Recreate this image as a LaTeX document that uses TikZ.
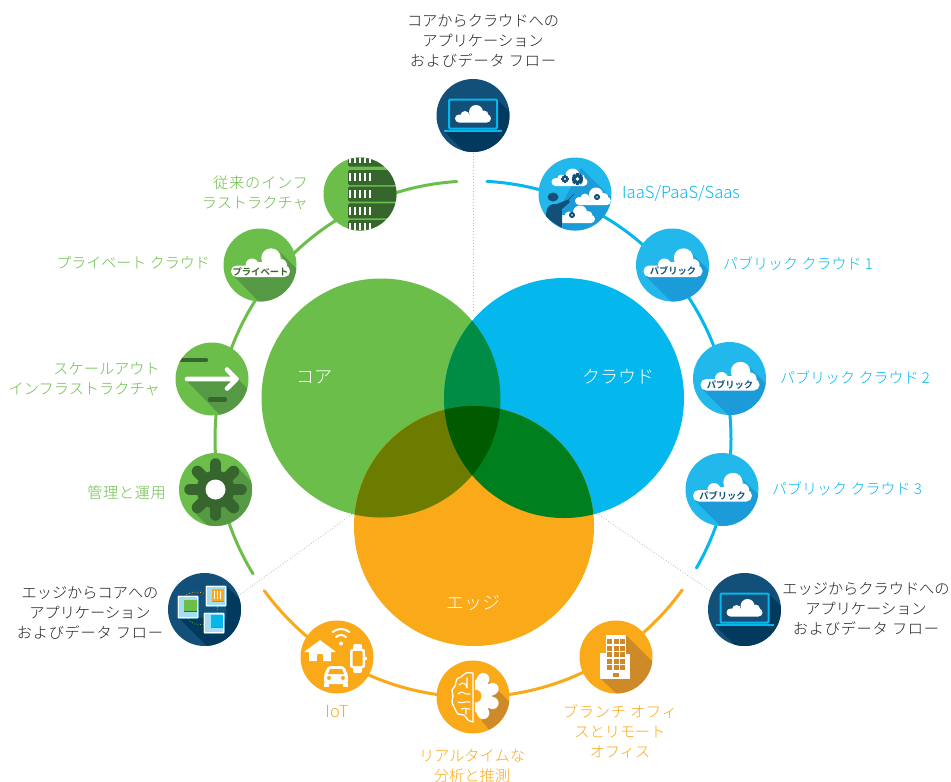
\documentclass[tikz,border=0pt]{standalone}
\usepackage{fontspec}
\setmainfont{Noto Sans CJK JP}[UprightFont=* Light,BoldFont=* Bold]
\usetikzlibrary{calc}
\definecolor{cgreen}{HTML}{6CBE4A}
\definecolor{cblue}{HTML}{04B8EE}
\definecolor{corange}{HTML}{FAA919}
\definecolor{cgb}{HTML}{008C44}
\definecolor{cgo}{HTML}{6B7C00}
\definecolor{cbo}{HTML}{007F1E}
\definecolor{cgbo}{HTML}{005A00}
\definecolor{navy}{HTML}{12507A}
\definecolor{navyd}{HTML}{013A5C}
\definecolor{sky}{HTML}{22B8EC}
\definecolor{skyd}{HTML}{1B9CD8}
\definecolor{grn}{HTML}{6CBE4A}
\definecolor{grnd}{HTML}{559944}
\definecolor{grnx}{HTML}{36652E}
\definecolor{orgd}{HTML}{CE8A28}
\definecolor{txt}{HTML}{222222}
\definecolor{ice}{HTML}{A3DEF2}
\tikzset{
  x=1pt,y=-1pt,
  ring/.style={line width=3pt,line cap=round},
  guide/.style={draw=black!24,line width=0.9pt,dotted},
  bub/.style={circle,minimum size=73pt,inner sep=0pt},
  lab/.style={inner sep=0pt,font=\fontsize{15.2}{20}\selectfont,text=#1},
  big/.style={inner sep=0pt,text=white,font=\fontsize{18}{20}\selectfont},
  tag/.style={inner sep=0pt,text=#1,font=\bfseries\fontsize{9.3}{10}\selectfont},
  cloudsym/.pic={
    \fill[rounded corners=4pt] (-18,-1) rectangle (18,7);
    \fill (3,-3.5) circle[radius=7pt];
    \fill (-8,0) circle[radius=4.5pt];
    \fill (11,-0.5) circle[radius=4.5pt];
  },
  cloudlab/.pic={
    \fill[white,rounded corners=5.6pt] (-29,0.5) rectangle (30,12);
    \fill[white] (11,-7) circle[radius=9.7pt];
    \fill[white] (-8,0) circle[radius=6.5pt];
    \fill[white] (21,0) circle[radius=6pt];
    \fill[white] (-8,-3) rectangle (20,2);
  },
}
\newcommand{\minigear}[3]{%
  \foreach \a in {0,45,...,315}{\draw[navy,line width=#3*0.5pt] (#1,#2) -- ++(\a:#3*0.9pt);}
  \fill[navy] (#1,#2) circle[radius=#3*0.72pt];
  \fill[white] (#1,#2) circle[radius=#3*0.3pt];
}
\newcommand{\spaced}[2]{{\addfontfeature{LetterSpace=#1}#2}}
\begin{document}
\begin{tikzpicture}
\useasboundingbox (0,0) rectangle (951,782);
\fill[white] (0,0) rectangle (951,782);
% dotted guides
\coordinate (gtop) at (473,150);
\coordinate (gtopb) at (473,312);
\coordinate (gl) at (238,596);
\coordinate (glb) at (358,510);
\coordinate (gr) at (712,592);
\coordinate (grb) at (592,510);
\draw[guide] (gtop) -- (gtopb);
\draw[guide] (gl) -- (glb);
\draw[guide] (gr) -- (grb);
% ring
\coordinate (rc) at (473,439);
\draw[ring,cgreen] ($(rc)+(93.6:258pt)$) arc[start angle=93.6,end angle=211.5,radius=258pt];
\draw[ring,cblue] ($(rc)+(86.9:258pt)$) arc[start angle=86.9,end angle=-30,radius=258pt];
\draw[ring,corange] ($(rc)+(216:258pt)$) arc[start angle=216,end angle=324.2,radius=258pt];
% venn
\def\vg{(381,398) circle[radius=119.5pt]}
\def\vb{(564,398) circle[radius=120pt]}
\def\vo{(474,526) circle[radius=120pt]}
\fill[cgreen] \vg;
\fill[cblue] \vb;
\fill[corange] \vo;
\begin{scope}\clip \vg; \fill[cgb] \vb; \fill[cgo] \vo;\end{scope}
\begin{scope}\clip \vb; \fill[cbo] \vo;\end{scope}
\begin{scope}\clip \vg; \clip \vb; \fill[cgbo] \vo;\end{scope}
\node[big] (core) at (314,377) {コア};
\node[big] (cloud) at (618,377) {クラウド};
\node[big] (edge) at (473,603) {エッジ};

% --- top laptop
\node[bub,fill=navy] (ntop) at (473,115.5) {};
\begin{scope}[shift={(ntop.center)}]
  \clip (0,0) circle[radius=36.5pt];
  \fill[navyd] (-29,16) -- (-5,40) -- (44,40) -- (44,4) -- (24,-16) -- (24,16) -- cycle;
  \draw[cblue,line width=2pt,rounded corners=1pt] (-24,-16) rectangle (24,13);
  \draw[cblue,line width=2.4pt] (-29,15.5) -- (29,15.5);
  \path pic[white] {cloudsym};
\end{scope}
% --- edge-cloud laptop
\node[bub,fill=navy] (nec) at (744.5,609.5) {};
\begin{scope}[shift={(nec.center)}]
  \clip (0,0) circle[radius=36.5pt];
  \fill[navyd] (-29,16) -- (-5,40) -- (44,40) -- (44,4) -- (24,-16) -- (24,16) -- cycle;
  \draw[cblue,line width=2pt,rounded corners=1pt] (-24,-16) rectangle (24,13);
  \draw[cblue,line width=2.4pt] (-29,15.5) -- (29,15.5);
  \path pic[white] {cloudsym};
\end{scope}
% --- IaaS
\node[bub,fill=sky] (niaas) at (575,194) {};
\begin{scope}[shift={(niaas.center)}]
  \clip (0,0) circle[radius=36.5pt];
  \fill[skyd] (6,-26) -- (42,10) -- (42,42) -- (-12,42) -- (-12,8) -- cycle;
  \begin{scope}[shift={(-5.5,-15)},scale=1.17]\path pic[white] {cloudsym};\end{scope}
  \minigear{-10}{-15}{4}
  \minigear{2.5}{-15}{6.5}
  \begin{scope}[shift={(18,4)},scale=.72]\path pic[white] {cloudsym};\end{scope}
  \minigear{22}{3}{3.2}
  \begin{scope}[shift={(2,22)},scale=.72]\path pic[white] {cloudsym};\end{scope}
  \minigear{-3}{21}{3.2}
  \fill[navy] (-22,3) ellipse[x radius=5.5pt,y radius=4.5pt];
  \fill[navy] (-29,22) .. controls (-29,12) and (-24,9) .. (-18,10) -- (-7,5.5) -- (-5,8) -- (-13,15) -- (-13,34) .. controls (-20,30) and (-26,26) .. (-29,22) -- cycle;
  \draw[navy,line width=.7pt] (-7,6) -- (-1,0);
\end{scope}
% --- public clouds
\foreach \n/\x/\y in {npa/672.5/265,npb/729.5/378.5,npc/722/489.5}{
  \node[bub,fill=sky] (\n) at (\x,\y) {};
  \begin{scope}[shift={(\n.center)}]
    \clip (0,0) circle[radius=36.5pt];
    \fill[skyd] (-27,11) -- (2,40) -- (42,40) -- (42,11) -- (19,-12) -- (30,5) -- cycle;
    \path pic {cloudlab};
    \node[tag=navy] at (0.5,6.3) {パブリック};
  \end{scope}
}
% --- private
\node[bub,fill=grn] (npriv) at (260,265) {};
\begin{scope}[shift={(npriv.center)}]
  \clip (0,0) circle[radius=36.5pt];
  \fill[grnd] (-27,10) -- (2,40) -- (42,40) -- (42,9) -- (19,-14) -- (30,5) -- cycle;
  \path pic {cloudlab};
  \node[tag=grnx] at (0.5,6.3) {プライベート};
\end{scope}
% --- legacy servers
\node[bub,fill=grn] (nleg) at (360,194) {};
\begin{scope}[shift={(nleg.center)}]
  \clip (0,0) circle[radius=36.5pt];
  \foreach \t/\b in {-40/-27.5,-24/-9,-7.3/7.7,9.3/24.3,26/40}{
    \fill[grnx,rounded corners=1.5pt] (-12,\t) rectangle (42,\b);
  }
  \foreach \yy/\hh in {-37/6,-21/8,-4/8,13/8,29/7}{
    \foreach \xx in {-10,-5,0,5,10}{
      \fill[white] (\xx-0.9,\yy) rectangle (\xx+0.9,\yy+\hh);
    }
  }
\end{scope}
% --- scale-out arrow
\node[bub,fill=grn] (narr) at (212,379) {};
\begin{scope}[shift={(narr.center)}]
  \clip (0,0) circle[radius=36.5pt];
  \fill[grnd] (-26,1) -- (10,38) -- (42,38) -- (42,16) -- (16,-10) -- (24,1) -- cycle;
  \draw[white,line width=4.6pt,line cap=round,line join=round] (-25,0) -- (24,0) (15,-9.5) -- (24.5,0) -- (15,9.5);
  \draw[grnx,line width=4.4pt,line cap=round] (-33,-19) -- (-6,-19);
  \draw[grnx,line width=4.4pt,line cap=round] (-2,20.5) -- (13,20.5);
\end{scope}
% --- gear
\node[bub,fill=grn] (ngear) at (215.5,489.5) {};
\begin{scope}[shift={(ngear.center)}]
  \clip (0,0) circle[radius=36.5pt];
  \fill[grnd] (22,-22) -- (44,0) -- (44,44) -- (0,44) -- (-23,21) -- cycle;
  \fill[grnx] (0,0) circle[radius=19pt];
  \foreach \a in {0,45,...,315}{\draw[grnx,line width=11.5pt,line cap=round] (0,0) -- (\a:25.5pt);}
  \fill[white] (0,0) circle[radius=10pt];
\end{scope}
% --- edge-core cubes
\node[bub,fill=navy] (nco) at (204.5,609.5) {};
\begin{scope}[shift={(nco.center)}]
  \clip (0,0) circle[radius=36.5pt];
  \fill[navyd] (-27,7) -- (6,40) -- (44,40) -- (44,-2) -- (21,-24) -- (22,10) -- cycle;
  \draw[corange,line width=.8pt,dotted] (-18,-15) .. controls (-12,-18) and (-6,-18) .. (1,-16);
  \draw[cblue,line width=.8pt,dotted] (13,-3) -- (13,3);
  \draw[cgreen,line width=.8pt,dotted] (-16,9) .. controls (-14,15) and (-8,15) .. (-1,15);
  \fill[ice,rounded corners=1pt] (-27,-14) rectangle (-6,9);
  \draw[white,line width=.6pt] (-26,-13) rectangle (-7,8);
  \fill[cgreen] (-21,-10) rectangle (-8,1);
  \fill[grnx] (-21,1) rectangle (-8,2);
  \fill[ice,rounded corners=1pt] (1,-24) rectangle (22,-3);
  \draw[white,line width=.6pt] (2,-23) rectangle (21,-4);
  \fill[corange] (7,-21) rectangle (19,-9);
  \fill[orgd] (7,-9) rectangle (19,-8);
  \foreach \xx in {10,13,16}{\fill[white] (\xx-.8,-19) rectangle (\xx+.8,-11);}
  \fill[ice,rounded corners=1pt] (-1,3) rectangle (20,24);
  \draw[white,line width=.6pt] (0,4) rectangle (19,23);
  \fill[cblue] (6,5) rectangle (18,17);
  \fill[skyd] (6,17) rectangle (18,18);
\end{scope}
% --- IoT
\node[bub,fill=corange] (niot) at (337,657) {};
\begin{scope}[shift={(niot.center)}]
  \fill[white] (-17,-17) -- (-1,-5) -- (-6,-5) -- (-6,4) -- (-28,4) -- (-28,-5) -- (-33,-5) -- cycle;
  \fill[corange,rounded corners=1pt] (-20,6) -- (-20,-3) -- (-14,-3) -- (-14,6) -- cycle;
  \draw[white,line width=2pt,line cap=round] (4,-15) ++(50:13pt) arc[start angle=50,end angle=130,radius=13pt];
  \draw[white,line width=2pt,line cap=round] (4,-15) ++(45:7pt) arc[start angle=45,end angle=135,radius=7pt];
  \fill[white] (4,-13.5) circle[radius=2pt];
  \fill[white,rounded corners=2pt] (16,-13) rectangle (25,16);
  \fill[white,rounded corners=2pt] (13,-8) rectangle (28,11);
  \fill[corange,rounded corners=1pt] (15.5,-6) rectangle (25.5,9);
  \fill[white] (28,0) rectangle (29.5,3);
  \fill[white,rounded corners=3pt] (-13,18) -- (-9,9) -- (7,9) -- (11,18) -- (11,27) -- (-13,27) -- cycle;
  \fill[corange] (-7,12) -- (5,12) -- (7,17) -- (-9,17) -- cycle;
  \fill[white] (-13,26) rectangle (-8,30);
  \fill[white] (6,26) rectangle (11,30);
  \fill[corange] (-8,21) circle[radius=2pt];
  \fill[corange] (6,21) circle[radius=2pt];
\end{scope}
% --- brain
\node[bub,fill=corange] (nbrain) at (473,697) {};
\begin{scope}[shift={(nbrain.center)}]
  \clip (0,0) circle[radius=36.5pt];
  \fill[orgd] (12,-19) -- (42,10) -- (42,42) -- (24,42) -- (9,24) -- cycle;
  \foreach \a in {64,22,-22,-64}{\draw[white,line width=12pt,line cap=round] (2,-1) -- ($(2,-1)+(\a:19pt)$);}
  \fill[white] (2,-17) -- (2,15) -- (15,15) -- (15,-17) -- cycle;
  \fill[corange] (2,-1) circle[radius=6.5pt];
  \fill[corange] (-3,-22) rectangle (2,24);
  \draw[white,line width=1.3pt,line join=round,line cap=round] plot[smooth] coordinates {(0,-24) (-7,-24) (-12,-20) (-16,-18) (-18,-11) (-21,-7) (-20,-1) (-21,5) (-18,12) (-15,17) (-9,18) (-5,23) (0,25)} -- cycle;
  \draw[white,line width=1.1pt,line cap=round] (-14,-12) .. controls (-9,-16) and (-7,-13) .. (-6,-9) (-6,-19) -- (-6,-9) (-15,-3) .. controls (-12,-6) and (-9,-5) .. (-7,-3) -- (-3,-3) (-15,5) .. controls (-11,7) and (-9,4) .. (-3,5) (-12,12) .. controls (-9,10) and (-7,12) .. (-3,12) (-7,17) -- (-7,12);
\end{scope}
% --- building
\node[bub,fill=corange] (nbuild) at (616,657) {};
\begin{scope}[shift={(nbuild.center)}]
  \clip (0,0) circle[radius=36.5pt];
  \fill[orgd] (10,-22) -- (44,12) -- (44,42) -- (6,42) -- (-15,22) -- cycle;
  \fill[white] (-10,-22) rectangle (10,22);
  \fill[white] (-16,-4) rectangle (-10,22);
  \fill[white] (10,-3) rectangle (14,22);
  \foreach \yy in {-18,-11.5,-5,1.5,8}{
    \foreach \xx in {-9,-2.5,4}{
      \fill[orgd] (\xx,\yy) rectangle (\xx+5,\yy+5);
    }
  }
  \fill[orgd] (-3,15.5) rectangle (3,20);
\end{scope}
% --- labels
\node[lab=txt,align=center] (tt) at (483,41) {コアからクラウドへの\\アプリケーション\\\spaced{5}{およびデータ フロー}};
\node[lab=cblue,anchor=west,font=\fontsize{16.6}{20}\selectfont] (tiaas) at (622,193) {IaaS/PaaS/Saas};
\node[lab=cblue,anchor=west,font=\fontsize{15}{20}\selectfont] (tpa) at (723,264) {パブリック クラウド 1};
\node[lab=cblue,anchor=west,font=\fontsize{15}{20}\selectfont] (tpb) at (780,378) {パブリック クラウド 2};
\node[lab=cblue,anchor=west,font=\fontsize{15}{20}\selectfont] (tpc) at (772,489) {パブリック クラウド 3};
\node[lab=txt,align=center] (tec) at (866,609) {エッジからクラウドへの\\アプリケーション\\\spaced{5}{およびデータ フロー}};
\node[lab=corange,align=center] (tbr) at (620,732) {\spaced{5}{ブランチ オフィ}\\スとリモート\\オフィス};
\node[lab=corange,align=center] (tai) at (472,766) {リアルタイムな\\分析と推測};
\node[lab=corange,font=\fontsize{16.6}{20}\selectfont] (tiot) at (337,712) {IoT};
\node[lab=txt,align=center] (tco) at (90,613) {エッジからコアへの\\アプリケーション\\\spaced{5}{およびデータ フロー}};
\node[lab=cgreen,anchor=east] (tmg) at (166,493) {\spaced{4}{管理と運用}};
\node[lab=cgreen,anchor=east,align=right] (tsc) at (160,379) {スケールアウト\\インフラストラクチャ};
\node[lab=cgreen,anchor=east,font=\fontsize{15}{20}\selectfont] (tpr) at (210,263) {プライベート クラウド};
\node[lab=cgreen,anchor=east,align=right] (tle) at (308,193) {\spaced{5}{従来のインフ}\\ラストラクチャ};
\end{tikzpicture}
\end{document}
